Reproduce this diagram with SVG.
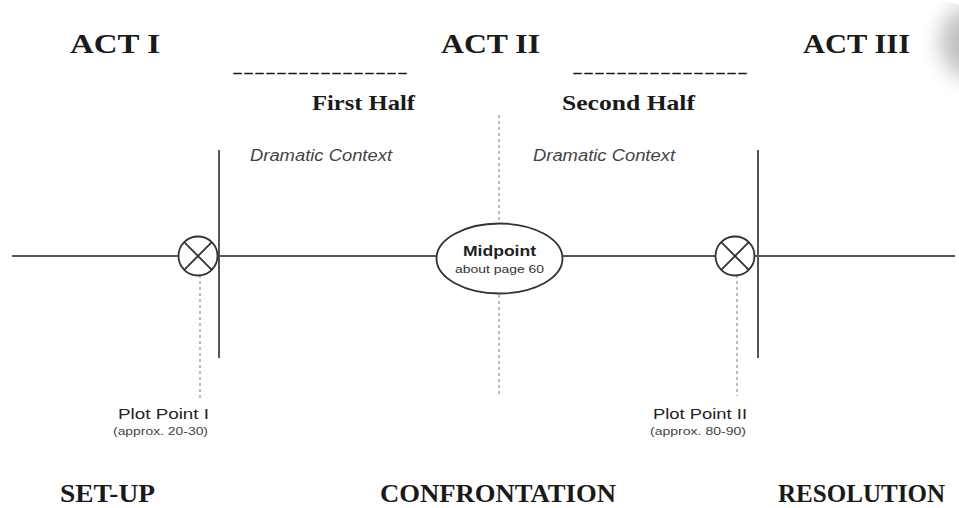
<svg xmlns="http://www.w3.org/2000/svg" width="959" height="508" viewBox="0 0 959 508">
<defs>
<style>
.act{font-family:"Liberation Serif",serif;font-weight:bold;fill:#1a1a1a}
.half{font-family:"Liberation Serif",serif;font-weight:bold;font-size:21px;fill:#1a1a1a}
.ctx{font-family:"Liberation Sans",sans-serif;font-style:italic;font-size:16px;fill:#444}
.pp{font-family:"Liberation Sans",sans-serif;font-size:14px;fill:#222}
.pps{font-family:"Liberation Sans",sans-serif;font-size:10px;fill:#444}
.solid{stroke:#555;stroke-width:2;fill:none}
.dash{stroke:#777;stroke-width:1;stroke-dasharray:3,3;fill:none}
.node{stroke:#333;stroke-width:1.8;fill:#fff}
</style>
<radialGradient id="shade" cx="0.8" cy="0.4" r="0.6">
<stop offset="0" stop-color="#aaa"/>
<stop offset="0.5" stop-color="#d4d4d4"/>
<stop offset="1" stop-color="#fff" stop-opacity="0"/>
</radialGradient>
</defs>
<rect width="959" height="508" fill="#fff"/>
<ellipse cx="945" cy="52" rx="45" ry="50" fill="url(#shade)"/>
<g id="labels">
<text class="act" x="70" y="53" font-size="28" textLength="90" lengthAdjust="spacingAndGlyphs">ACT I</text>
<text class="act" x="441" y="53" font-size="28" textLength="99" lengthAdjust="spacingAndGlyphs">ACT II</text>
<text class="act" x="803" y="53" font-size="28" textLength="107" lengthAdjust="spacingAndGlyphs">ACT III</text>
<text class="act" x="232" y="78" font-size="16" textLength="176" lengthAdjust="spacingAndGlyphs">----------------</text>
<text class="act" x="572" y="78" font-size="16" textLength="176" lengthAdjust="spacingAndGlyphs">----------------</text>
<text class="half" x="312" y="110" textLength="103" lengthAdjust="spacingAndGlyphs">First Half</text>
<text class="half" x="562" y="110" textLength="133" lengthAdjust="spacingAndGlyphs">Second Half</text>
<text class="ctx" x="250" y="161" textLength="142" lengthAdjust="spacingAndGlyphs">Dramatic Context</text>
<text class="ctx" x="533" y="161" textLength="142" lengthAdjust="spacingAndGlyphs">Dramatic Context</text>
<text class="act" x="60" y="502" font-size="25" textLength="95" lengthAdjust="spacingAndGlyphs">SET-UP</text>
<text class="act" x="380" y="502" font-size="25" textLength="236" lengthAdjust="spacingAndGlyphs">CONFRONTATION</text>
<text class="act" x="778" y="502" font-size="25" textLength="167" lengthAdjust="spacingAndGlyphs">RESOLUTION</text>
</g>
<g id="connectors">
<line class="solid" x1="12" y1="256" x2="955" y2="256"/>
<line class="solid" x1="219" y1="150" x2="219" y2="358"/>
<line class="solid" x1="758" y1="150" x2="758" y2="358"/>
<line class="dash" x1="499" y1="115" x2="499" y2="395"/>
<line class="dash" x1="200" y1="275" x2="200" y2="400"/>
<line class="dash" x1="737" y1="275" x2="737" y2="396"/>
</g>
<g id="plot-point-1">
<circle class="node" cx="198" cy="256" r="19.5"/>
<line stroke="#333" stroke-width="1.8" x1="184.2" y1="242.2" x2="211.8" y2="269.8"/>
<line stroke="#333" stroke-width="1.8" x1="211.8" y1="242.2" x2="184.2" y2="269.8"/>
<text class="pp" x="118" y="419" textLength="91" lengthAdjust="spacingAndGlyphs">Plot Point I</text>
<text class="pps" x="113" y="435" textLength="95" lengthAdjust="spacingAndGlyphs">(approx. 20-30)</text>
</g>
<g id="midpoint">
<ellipse class="node" cx="499.5" cy="258.5" rx="63" ry="35"/>
<text x="463" y="256" font-family="Liberation Sans,sans-serif" font-weight="bold" font-size="14" fill="#222" textLength="73" lengthAdjust="spacingAndGlyphs">Midpoint</text>
<text x="455" y="273" font-family="Liberation Sans,sans-serif" font-size="11" fill="#333" textLength="89" lengthAdjust="spacingAndGlyphs">about page 60</text>
</g>
<g id="plot-point-2">
<circle class="node" cx="735" cy="256" r="19.5"/>
<line stroke="#333" stroke-width="1.8" x1="721.2" y1="242.2" x2="748.8" y2="269.8"/>
<line stroke="#333" stroke-width="1.8" x1="748.8" y1="242.2" x2="721.2" y2="269.8"/>
<text class="pp" x="653" y="419" textLength="94" lengthAdjust="spacingAndGlyphs">Plot Point II</text>
<text class="pps" x="650" y="435" textLength="96" lengthAdjust="spacingAndGlyphs">(approx. 80-90)</text>
</g>
</svg>
